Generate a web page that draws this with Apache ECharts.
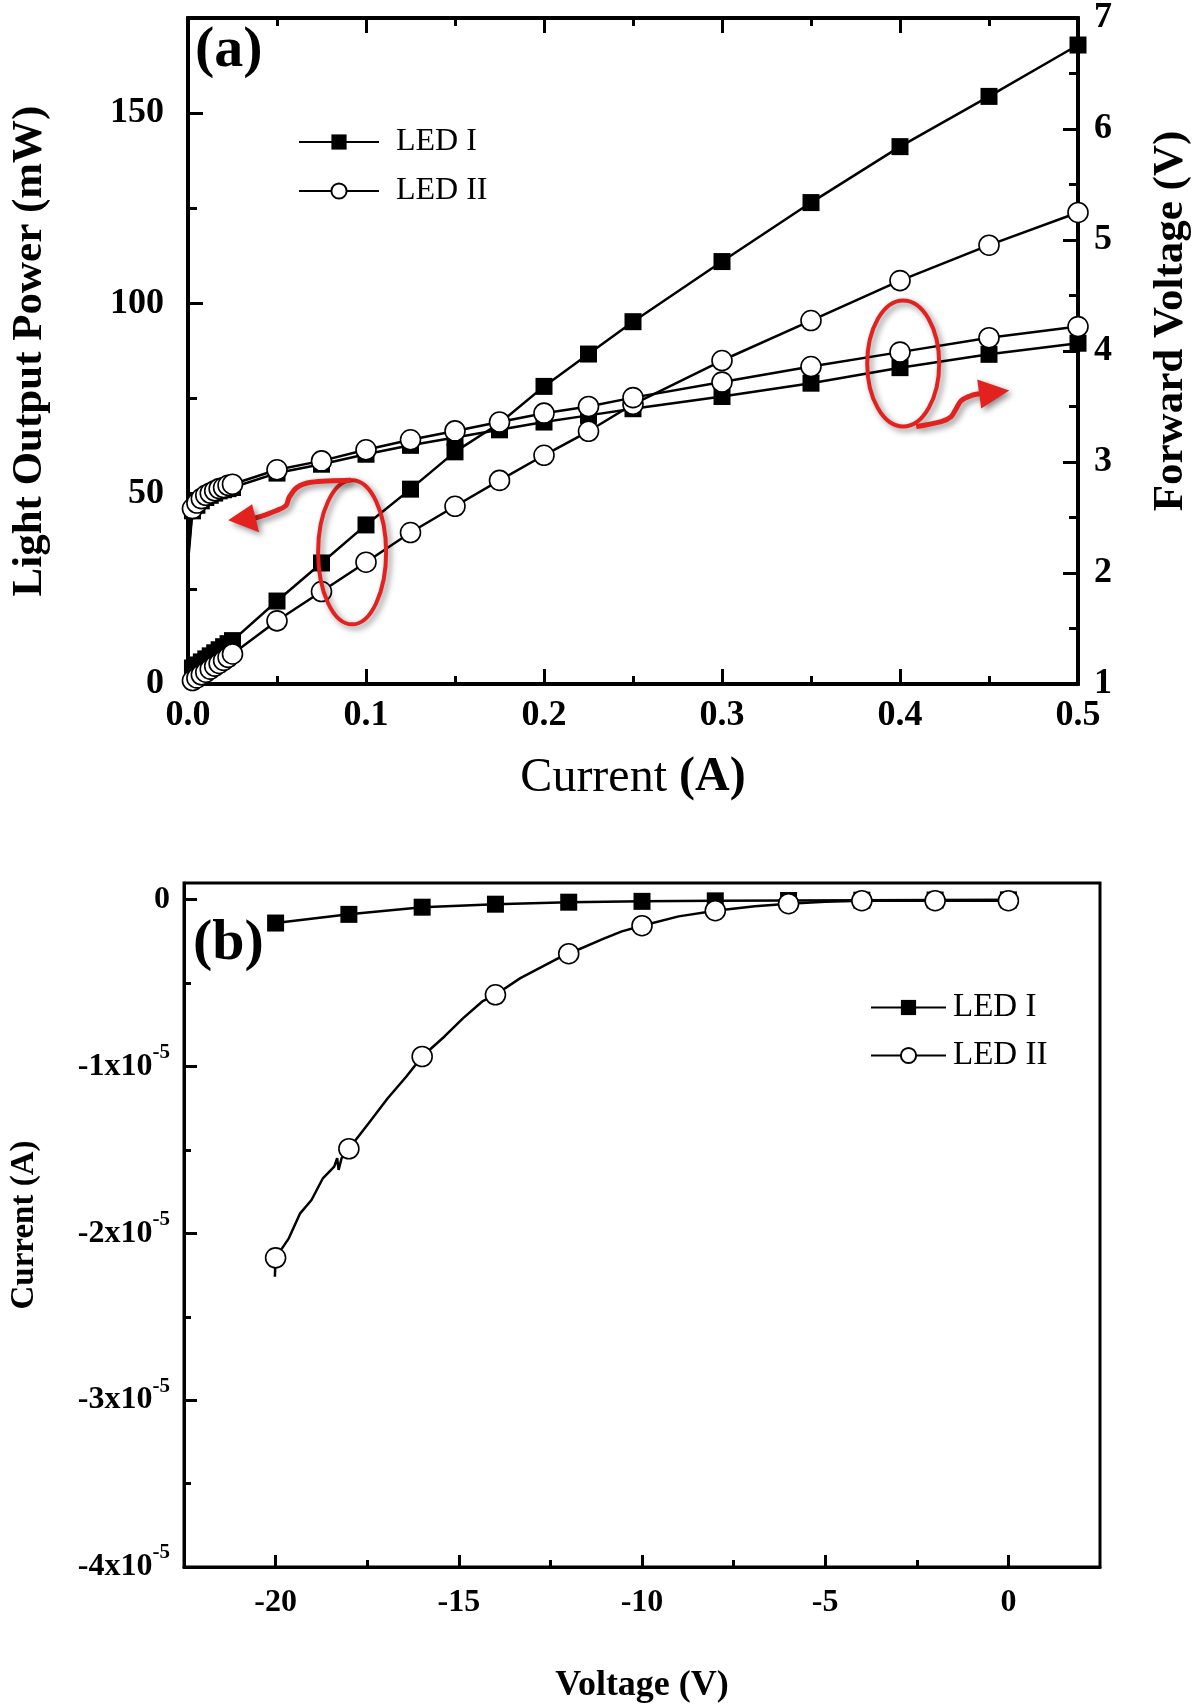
<!DOCTYPE html>
<html><head><meta charset="utf-8">
<script src="https://cdn.jsdelivr.net/npm/echarts@6/dist/echarts.min.js"></script>
<style>html,body{margin:0;padding:0;background:#fff}#c{width:1200px;height:1706px}</style>
</head><body><div id="c"></div>
<script>
// ---------------- Panel (a): L-I-V ----------------
const currentA = [0.0025, 0.005, 0.0075, 0.01, 0.0125, 0.015, 0.0175, 0.02, 0.0225, 0.025,
  0.05, 0.075, 0.1, 0.125, 0.15, 0.175, 0.2, 0.225, 0.25, 0.3, 0.35, 0.4, 0.45, 0.5];
const ledIPower = [4.2, 5.0, 5.8, 6.6, 7.4, 8.2, 9.0, 9.8, 10.6, 11.4,
  21.8, 31.8, 41.8, 51.2, 61.0, 68.5, 78.2, 86.7, 95.2, 111.0, 126.5, 141.2, 154.4, 167.9];
const ledIIPower = [0.9, 1.6, 2.4, 3.1, 3.9, 4.7, 5.4, 6.2, 7.0, 7.9,
  16.6, 24.3, 32.0, 39.8, 46.7, 53.5, 60.1, 66.4, 73.5, 85.0, 95.5, 106.0, 115.3, 123.9];
const ledIVoltage = [2.56, 2.61, 2.65, 2.68, 2.70, 2.72, 2.74, 2.75, 2.76, 2.77,
  2.90, 2.98, 3.07, 3.15, 3.22, 3.29, 3.36, 3.42, 3.48, 3.59, 3.71, 3.85, 3.97, 4.07];
const ledIIVoltage = [2.58, 2.63, 2.67, 2.70, 2.72, 2.74, 2.76, 2.77, 2.79, 2.80,
  2.93, 3.01, 3.11, 3.20, 3.28, 3.36, 3.44, 3.50, 3.58, 3.72, 3.86, 3.99, 4.12, 4.22];
// steep voltage onset right at the axis (drawn without markers)
const leadCurrent = [0.0003];
const ledIVoltageLead = [2.15];
const ledIIVoltageLead = [2.2];
const powerTicks = [0, 50, 100, 150];
const powerMinorTicks = [25, 75, 125];
// annotation anchors (data coords of the red ellipses)
const ellipseAnchors = [[0.0922, 34.6], [0.4018, 84.2]];

// ---------------- Panel (b): reverse I-V ----------------
const revVoltage = [-20, -18, -16, -14, -12, -10, -8, -6, -4, -2, 0];
const ledIReverse = [-0.14, -0.088, -0.045, -0.027, -0.015, -0.010, -0.007, -0.005, -0.003, -0.002, -0.001]; // x1e-5 A
const ledIIVoltageDense = [-20.02, -20, -19.64, -19.33, -19.02, -18.71, -18.4, -18.32, -18.28, -18.2, -18,
  -17.46, -16.94, -16.43, -16, -15.39, -14.88, -14.36, -14, -13.32, -12.8, -12.28, -12,
  -11.06, -10.55, -10, -9, -8, -6.92, -6, -5, -4, -3, -2, -1, 0];
const ledIIReverse = [-2.26, -2.147, -2.03, -1.88, -1.80, -1.67, -1.60, -1.55, -1.62, -1.55, -1.493,
  -1.34, -1.19, -1.06, -0.94, -0.82, -0.71, -0.61, -0.57, -0.47, -0.41, -0.35, -0.324,
  -0.235, -0.19, -0.156, -0.10, -0.066, -0.04, -0.024, -0.012, -0.006, -0.006, -0.006, -0.006, -0.006]; // x1e-5 A
const xTicksB = [-20, -15, -10, -5, 0];
const xMinorTicksB = [-17.5, -12.5, -7.5, -2.5];
const yTicksB = [-4, -3, -2, -1, 0];        // x1e-5
const yMinorTicksB = [-3.5, -2.5, -1.5, -0.5]; // x1e-5
const E5 = 1e-5;

const FONT = 'Liberation Serif';
const BLACK = '#000';
const chart = echarts.init(document.getElementById('c'), null, {width: 1200, height: 1706});

const sqStyle = {symbol: 'rect', symbolSize: 17, itemStyle: {color: BLACK, borderWidth: 0},
  lineStyle: {color: BLACK, width: 2.5}};
const ciStyle = {symbol: 'circle', symbolSize: 20, itemStyle: {color: '#fff', borderColor: BLACK, borderWidth: 1.6},
  lineStyle: {color: BLACK, width: 2.5}};

const pairs = (xs, ys, k) => xs.map((x, i) => [x, ys[i] * (k || 1)]);
const withLead = (lx, ly, xs, ys) =>
  lx.map((x, i) => ({value: [x, ly[i]], symbol: 'none'})).concat(pairs(xs, ys));
const markedDense = (xs, ys, marks, k) => xs.map((x, i) =>
  marks.indexOf(x) >= 0 ? [x, ys[i] * k] : {value: [x, ys[i] * k], symbol: 'none'});

const lbl = (size, extra) => Object.assign({fontFamily: FONT, fontSize: size, fontWeight: 'bold', color: BLACK}, extra || {});
const hidden = {show: false};
const line = w => ({show: true, onZero: false, lineStyle: {color: BLACK, width: w}});
const noLine = {show: false, onZero: false};

const option = {
  animation: false,
  backgroundColor: '#fff',
  grid: [
    {left: 181, top: 15, width: 905, height: 669, show: true, borderColor: BLACK, borderWidth: 3.5, backgroundColor: 'transparent'},
    {left: 179, top: 883, width: 921, height: 684, show: true, borderColor: BLACK, borderWidth: 3, backgroundColor: 'transparent'}
  ],
  legend: [
    {left: 293, top: 121, orient: 'vertical', itemWidth: 80, itemHeight: 19, itemGap: 17, selectedMode: false,
      data: ['LED I', 'LED II'], textStyle: {fontFamily: FONT, fontSize: 32, color: BLACK, padding: [0, 0, 0, 12]}},
    {left: 865, top: 986, orient: 'vertical', itemWidth: 75, itemHeight: 19, itemGap: 15, selectedMode: false,
      data: ['LED I', 'LED II'], textStyle: {fontFamily: FONT, fontSize: 33, color: BLACK, padding: [0, 0, 0, 2]}}
  ],
  xAxis: [
    {type: 'value', gridIndex: 0, position: 'bottom', min: 0, max: 0.5, interval: 0.1,
      axisLine: line(4),
      axisTick: {show: true, inside: true, length: 15, lineStyle: {color: BLACK, width: 3}},
      minorTick: {show: true, splitNumber: 2, length: 8, lineStyle: {color: BLACK, width: 3}},
      axisLabel: lbl(36, {margin: 14, formatter: v => v.toFixed(1)}),
      splitLine: hidden,
      name: '{n|Current }{b|(A)}', nameLocation: 'middle', nameGap: 70,
      nameTextStyle: {rich: {n: {fontFamily: FONT, fontSize: 48, color: BLACK}, b: {fontFamily: FONT, fontSize: 48, fontWeight: 'bold', color: BLACK}}}},
    {type: 'value', gridIndex: 0, position: 'top', min: 0, max: 0.5, interval: 0.1,
      axisLine: line(4),
      axisTick: {show: true, inside: true, length: 15, lineStyle: {color: BLACK, width: 3}},
      minorTick: {show: true, splitNumber: 2, length: 8, lineStyle: {color: BLACK, width: 3}},
      axisLabel: hidden, splitLine: hidden},
    {type: 'value', gridIndex: 1, position: 'bottom', min: -22.5, max: 2.5,
      axisLine: line(3),
      axisTick: {show: true, inside: true, length: 12, customValues: xTicksB, lineStyle: {color: BLACK, width: 3}},
      axisLabel: lbl(32, {margin: 20, customValues: xTicksB}),
      splitLine: hidden,
      name: 'Voltage (V)', nameLocation: 'middle', nameGap: 101, nameTextStyle: lbl(36)},
    {type: 'value', gridIndex: 1, position: 'bottom', min: -22.5, max: 2.5,
      axisLine: noLine,
      axisTick: {show: true, inside: true, length: 7, customValues: xMinorTicksB, lineStyle: {color: BLACK, width: 3}},
      axisLabel: hidden, splitLine: hidden}
  ],
  yAxis: [
    {type: 'value', gridIndex: 0, position: 'left', min: 0, max: 175,
      axisLine: line(4),
      axisTick: {show: true, inside: true, length: 15, customValues: powerTicks, lineStyle: {color: BLACK, width: 3}},
      axisLabel: lbl(36, {margin: 24, customValues: powerTicks}),
      splitLine: hidden,
      name: 'Light Output Power (mW)', nameLocation: 'middle', nameGap: 137, nameRotate: 90,
      nameTextStyle: lbl(43)},
    {type: 'value', gridIndex: 0, position: 'left', min: 0, max: 175,
      axisLine: noLine,
      axisTick: {show: true, inside: true, length: 9, customValues: powerMinorTicks, lineStyle: {color: BLACK, width: 3}},
      axisLabel: hidden, splitLine: hidden},
    {type: 'value', gridIndex: 0, position: 'right', min: 1, max: 7, interval: 1,
      axisLine: line(4),
      axisTick: {show: true, inside: true, length: 15, lineStyle: {color: BLACK, width: 3}},
      minorTick: {show: true, splitNumber: 2, length: 9, lineStyle: {color: BLACK, width: 3}},
      axisLabel: lbl(36, {margin: 16}),
      splitLine: hidden,
      name: 'Forward Voltage (V)', nameLocation: 'middle', nameGap: 71, nameRotate: 90,
      nameTextStyle: lbl(43, {padding: [0, 0, 0, 60]})},
    {type: 'value', gridIndex: 1, position: 'left', min: -4 * E5, max: 0.1 * E5,
      axisLine: line(3),
      axisTick: {show: true, inside: true, length: 13, customValues: yTicksB.map(v => v * E5), lineStyle: {color: BLACK, width: 3}},
      axisLabel: {margin: 14, customValues: yTicksB.map(v => v * E5),
        formatter: v => { const n = Math.round(v / E5); return n === 0 ? '{b|0}' : '{b|' + n + 'x10}{s|-5}'; },
        rich: {b: lbl(32), s: lbl(21, {padding: [0, 0, 28, 0]})}},
      splitLine: hidden,
      name: 'Current (A)', nameLocation: 'middle', nameGap: 143, nameRotate: 90, nameTextStyle: lbl(33)},
    {type: 'value', gridIndex: 1, position: 'left', min: -4 * E5, max: 0.1 * E5,
      axisLine: noLine,
      axisTick: {show: true, inside: true, length: 7, customValues: yMinorTicksB.map(v => v * E5), lineStyle: {color: BLACK, width: 3}},
      axisLabel: hidden, splitLine: hidden}
  ],
  series: [
    Object.assign({type: 'line', name: 'LED I', xAxisIndex: 0, yAxisIndex: 0, data: pairs(currentA, ledIPower)}, sqStyle),
    Object.assign({type: 'line', name: 'LED I', xAxisIndex: 0, yAxisIndex: 2, data: withLead(leadCurrent, ledIVoltageLead, currentA, ledIVoltage)}, sqStyle),
    Object.assign({type: 'line', name: 'LED II', xAxisIndex: 0, yAxisIndex: 0, data: pairs(currentA, ledIIPower)}, ciStyle),
    Object.assign({type: 'line', name: 'LED II', xAxisIndex: 0, yAxisIndex: 2, data: withLead(leadCurrent, ledIIVoltageLead, currentA, ledIIVoltage)}, ciStyle),
    Object.assign({type: 'line', name: 'LED I', xAxisIndex: 2, yAxisIndex: 3, data: pairs(revVoltage, ledIReverse, E5)}, sqStyle),
    Object.assign({type: 'line', name: 'LED II', xAxisIndex: 2, yAxisIndex: 3, data: markedDense(ledIIVoltageDense, ledIIReverse, revVoltage, E5)}, ciStyle)
  ]
};
chart.setOption(option);

// ---- annotations (red ellipses + arrows), panel labels ----
const RED = '#e3221f';
const SH = {shadowBlur: 6, shadowColor: 'rgba(0,0,0,0.45)', shadowOffsetX: 3, shadowOffsetY: 3};
const c1 = chart.convertToPixel({xAxisIndex: 0, yAxisIndex: 0}, ellipseAnchors[0]);
const c2 = chart.convertToPixel({xAxisIndex: 0, yAxisIndex: 0}, ellipseAnchors[1]);
const off = (c, pts) => pts.map(p => [c[0] + p[0], c[1] + p[1]]);
const arrow1 = [[-1, -72], [-41, -70], [-55, -65], [-63, -55], [-66, -47], [-75, -42], [-88, -37], [-98, -34]];
const head1 = [[-100, -48], [-93, -20], [-124, -32]];
const arrow2 = [[13, 63], [38, 58], [48, 53], [53, 45], [58, 37], [68, 32], [78, 30]];
const head2 = [[74, 16], [78, 45], [106, 27]];
chart.setOption({graphic: [
  {type: 'ellipse', z: 50, shape: {cx: c1[0], cy: c1[1], rx: 34, ry: 72}, style: Object.assign({fill: 'none', stroke: RED, lineWidth: 4}, SH)},
  {type: 'polyline', z: 50, shape: {points: off(c1, arrow1), smooth: 0.3}, style: Object.assign({fill: 'none', stroke: RED, lineWidth: 5}, SH)},
  {type: 'polygon', z: 50, shape: {points: off(c1, head1)}, style: Object.assign({fill: RED}, SH)},
  {type: 'ellipse', z: 50, shape: {cx: c2[0], cy: c2[1], rx: 36, ry: 63}, style: Object.assign({fill: 'none', stroke: RED, lineWidth: 4}, SH)},
  {type: 'polyline', z: 50, shape: {points: off(c2, arrow2), smooth: 0.3}, style: Object.assign({fill: 'none', stroke: RED, lineWidth: 5}, SH)},
  {type: 'polygon', z: 50, shape: {points: off(c2, head2)}, style: Object.assign({fill: RED}, SH)},
  {type: 'text', z: 60, x: 195, y: 22, style: {text: '(a)', fontFamily: FONT, fontSize: 58, fontWeight: 'bold', fill: BLACK}},
  {type: 'text', z: 60, x: 193, y: 915, style: {text: '(b)', fontFamily: FONT, fontSize: 58, fontWeight: 'bold', fill: BLACK}}
]});
</script>
</body></html>
